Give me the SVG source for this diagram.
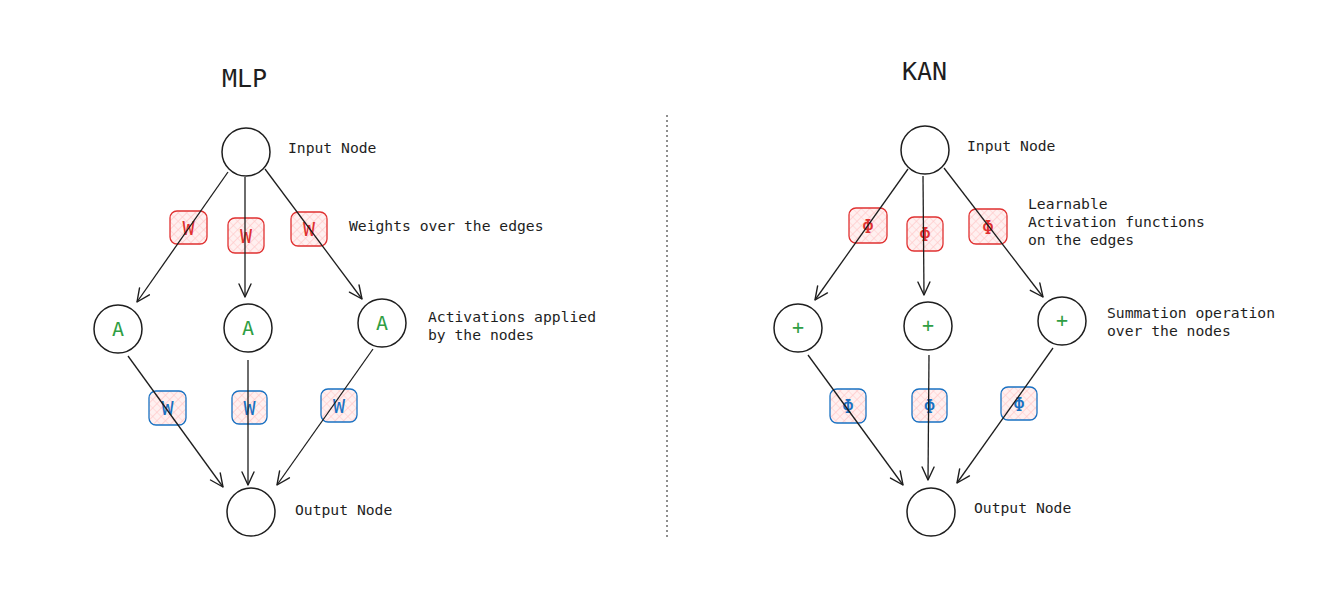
<svg xmlns="http://www.w3.org/2000/svg" width="1329" height="608" viewBox="0 0 1329 608">
<defs>
<pattern id="hatch" width="6" height="6" patternUnits="userSpaceOnUse" patternTransform="rotate(45)">
<rect width="6" height="6" fill="#fff0f0"/>
<line x1="0" y1="0" x2="0" y2="6" stroke="#ffc9c9" stroke-width="1.5"/>
<line x1="0" y1="0" x2="6" y2="0" stroke="#ffc9c9" stroke-width="1"/>
</pattern>
<marker id="arr" markerUnits="userSpaceOnUse" markerWidth="20" markerHeight="20" viewBox="-15 -10 20 20" refX="0" refY="0" orient="auto">
<path d="M -13 -6 L 0 0 L -13 6" fill="none" stroke="#1e1e1e" stroke-width="1.4" stroke-linecap="round" stroke-linejoin="round"/>
</marker>
</defs>
<style>
.node{fill:none;stroke:#1e1e1e;stroke-width:1.5}
.lbl{font-family:"DejaVu Sans Mono","Liberation Mono",monospace;font-size:14.7px;fill:#1e1e1e}
.title{font-family:"DejaVu Sans Mono","Liberation Mono",monospace;font-size:25px;fill:#1e1e1e}
.edge{fill:none;stroke:#1e1e1e;stroke-width:1.3;marker-end:url(#arr)}
.rbox{fill:url(#hatch);stroke:#e03131;stroke-width:1.3}
.bbox{fill:url(#hatch);stroke:#1971c2;stroke-width:1.3}
.rt{font-family:"DejaVu Sans Mono","Liberation Mono",monospace;font-size:20px;fill:#e03131;text-anchor:middle}
.bt{font-family:"DejaVu Sans Mono","Liberation Mono",monospace;font-size:20px;fill:#1971c2;text-anchor:middle}
.gt{font-family:"DejaVu Sans Mono","Liberation Mono",monospace;font-size:20px;fill:#2f9e44;text-anchor:middle}
</style>
<rect width="1329" height="608" fill="#ffffff"/>
<g id="titles">
<text class="title" x="222" y="87">MLP</text>
<text class="title" x="902" y="80">KAN</text>
</g>
<line id="divider" x1="667" y1="115" x2="667" y2="540" stroke="#1e1e1e" stroke-width="1" stroke-dasharray="2 3"/>
<g id="mlp-w1"><rect class="rbox" x="170" y="211" width="37" height="33" rx="7"/><text class="rt" x="188.5" y="235">W</text></g>
<g id="mlp-w2"><rect class="rbox" x="228" y="218" width="36" height="35" rx="7"/><text class="rt" x="246" y="243">W</text></g>
<g id="mlp-w3"><rect class="rbox" x="291" y="212" width="36" height="34" rx="7"/><text class="rt" x="309" y="236">W</text></g>
<g id="mlp-w4"><rect class="bbox" x="149" y="391" width="37" height="34" rx="7"/><text class="bt" x="167.5" y="415">W</text></g>
<g id="mlp-w5"><rect class="bbox" x="232" y="391" width="35" height="33" rx="7"/><text class="bt" x="249.5" y="415">W</text></g>
<g id="mlp-w6"><rect class="bbox" x="321" y="389" width="36" height="33" rx="7"/><text class="bt" x="339" y="413">W</text></g>
<g id="kan-p1"><rect class="rbox" x="849" y="208" width="38" height="35" rx="7"/><text class="rt" x="868" y="233">Φ</text></g>
<g id="kan-p2"><rect class="rbox" x="907" y="217" width="36" height="34" rx="7"/><text class="rt" x="925" y="241">Φ</text></g>
<g id="kan-p3"><rect class="rbox" x="969" y="209" width="38" height="35" rx="7"/><text class="rt" x="988" y="234">Φ</text></g>
<g id="kan-p4"><rect class="bbox" x="830" y="389" width="36" height="34" rx="7"/><text class="bt" x="848" y="413">Φ</text></g>
<g id="kan-p5"><rect class="bbox" x="912" y="389" width="35" height="33" rx="7"/><text class="bt" x="929.5" y="413">Φ</text></g>
<g id="kan-p6"><rect class="bbox" x="1001" y="387" width="36" height="33" rx="7"/><text class="bt" x="1019" y="411">Φ</text></g>
<g id="connectors">
<path class="edge" d="M 228 172 L 137 302"/>
<path class="edge" d="M 245 177 L 245 297"/>
<path class="edge" d="M 265 169 L 362 299"/>
<path class="edge" d="M 128 356 L 223 487"/>
<path class="edge" d="M 248 360 L 248 485"/>
<path class="edge" d="M 373 349 L 277 485"/>
<path class="edge" d="M 908 169 L 815 300"/>
<path class="edge" d="M 923 176 L 924 295"/>
<path class="edge" d="M 944 168 L 1043 297"/>
<path class="edge" d="M 808 355 L 903 485"/>
<path class="edge" d="M 929 355 L 928 480"/>
<path class="edge" d="M 1053 348 L 957 483"/>
</g>
<g id="mlp-input"><circle class="node" cx="246" cy="152" r="24"/><text class="lbl" x="288" y="153">Input Node</text></g>
<g id="mlp-weights-note"><text class="lbl" x="349" y="231">Weights over the edges</text></g>
<g id="mlp-a1"><circle class="node" cx="118" cy="329" r="24"/><text class="gt" x="118" y="336">A</text></g>
<g id="mlp-a2"><circle class="node" cx="248" cy="328" r="24"/><text class="gt" x="248" y="335">A</text></g>
<g id="mlp-a3"><circle class="node" cx="382" cy="323" r="24"/><text class="gt" x="382" y="330">A</text></g>
<g id="mlp-act-note"><text class="lbl" x="428" y="322">Activations applied</text><text class="lbl" x="428" y="340">by the nodes</text></g>
<g id="mlp-output"><circle class="node" cx="251" cy="512" r="24"/><text class="lbl" x="295" y="515">Output Node</text></g>
<g id="kan-input"><circle class="node" cx="925" cy="150" r="24"/><text class="lbl" x="967" y="151">Input Node</text></g>
<g id="kan-act-note"><text class="lbl" x="1028" y="209">Learnable</text><text class="lbl" x="1028" y="227">Activation functions</text><text class="lbl" x="1028" y="245">on the edges</text></g>
<g id="kan-s1"><circle class="node" cx="798" cy="328" r="24"/><text class="gt" x="798" y="334">+</text></g>
<g id="kan-s2"><circle class="node" cx="928" cy="326" r="24"/><text class="gt" x="928" y="332">+</text></g>
<g id="kan-s3"><circle class="node" cx="1062" cy="321" r="24"/><text class="gt" x="1062" y="327">+</text></g>
<g id="kan-sum-note"><text class="lbl" x="1107" y="318">Summation operation</text><text class="lbl" x="1107" y="336">over the nodes</text></g>
<g id="kan-output"><circle class="node" cx="931" cy="512" r="24"/><text class="lbl" x="974" y="513">Output Node</text></g>
</svg>
